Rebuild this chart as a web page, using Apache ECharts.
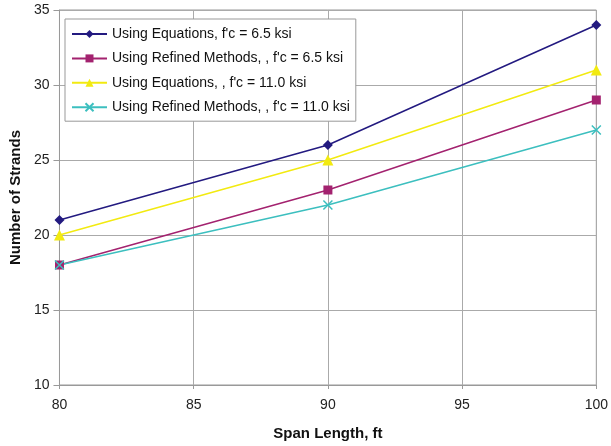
<!DOCTYPE html>
<html><head><meta charset="utf-8">
<script src="https://cdn.jsdelivr.net/npm/echarts@6/dist/echarts.min.js"></script>
<style>html,body{margin:0;padding:0;background:#fff}#c{width:611px;height:446px}</style>
</head><body><div id="c"></div>
<script>
const spans = [80, 90, 100];
const eq65 = [21, 26, 34];
const ref65 = [18, 23, 29];
const eq110 = [20, 25, 31];
const ref110 = [18, 22, 27];
const names = ['Using Equations, f\'c = 6.5 ksi', 'Using Refined Methods, , f\'c = 6.5 ksi', 'Using Equations, , f\'c = 11.0 ksi', 'Using Refined Methods, , f\'c = 11.0 ksi'];
const colors = ['#231a80', '#a3226f', '#f2ea10', '#3cbfbf'];
const symbols = ['diamond', 'rect', 'triangle', 'path://M0,0L10,10M10,0L0,10'];
const sizes = [10, 9, 11, 9];
const seriesData = [eq65, ref65, eq110, ref110];
const chart = echarts.init(document.getElementById('c'));
const font = 'Liberation Sans, Arial, sans-serif';
chart.setOption({
  animation: false,
  grid: {left: 58, right: 12, top: 10, bottom: 61, show: true, borderColor: '#999', borderWidth: 1},
  legend: {
    left: 65, top: 19, orient: 'vertical', itemGap: 8.4, itemWidth: 35, itemHeight: 10,
    backgroundColor: '#fff', borderColor: '#999', borderWidth: 1, padding: [7, 6, 6, 6],
    textStyle: {fontFamily: font, fontSize: 14, lineHeight: 16, color: '#111', padding: [0, 0, 0, 0]},
    data: names
  },
  xAxis: {
    type: 'value', min: 80, max: 100, interval: 5,
    name: 'Span Length, ft', nameLocation: 'middle', nameGap: 41,
    nameTextStyle: {fontFamily: font, fontSize: 15, fontWeight: 'bold', color: '#111'},
    axisLine: {show: true, lineStyle: {color: '#999'}},
    axisTick: {show: true, length: 4, lineStyle: {color: '#999'}},
    axisLabel: {fontFamily: font, fontSize: 14, color: '#222', margin: 13},
    splitLine: {show: true, lineStyle: {color: '#aaa'}}
  },
  yAxis: {
    type: 'value', min: 10, max: 35, interval: 5,
    name: 'Number of Strands', nameLocation: 'middle', nameGap: 36,
    nameTextStyle: {fontFamily: font, fontSize: 15, fontWeight: 'bold', color: '#111'},
    axisLine: {show: true, lineStyle: {color: '#999'}},
    axisTick: {show: true, length: 6, lineStyle: {color: '#999'}},
    axisLabel: {fontFamily: font, fontSize: 14, color: '#222', margin: 10},
    splitLine: {show: true, lineStyle: {color: '#aaa'}}
  },
  series: seriesData.map((d, i) => ({
    name: names[i], type: 'line',
    data: spans.map((s, j) => [s, d[j]]),
    symbol: symbols[i], symbolSize: sizes[i], showAllSymbol: true,
    lineStyle: {color: colors[i], width: 1.5},
    itemStyle: i === 3 ? {color: 'none', borderColor: colors[i], borderWidth: 1.5} : {color: colors[i], borderWidth: 0},
    emphasis: {disabled: true}
  }))
});
</script>
</body></html>
